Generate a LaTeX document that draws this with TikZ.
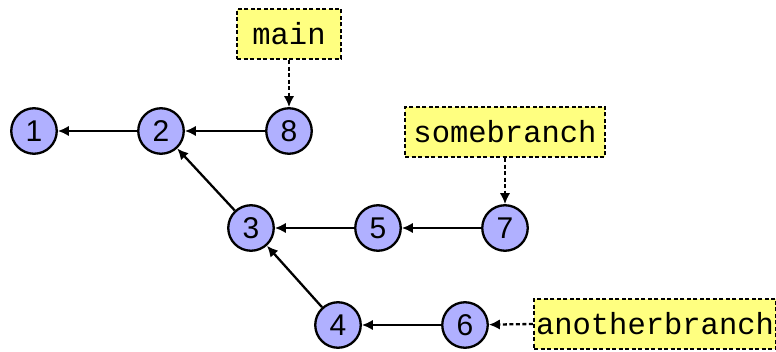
\documentclass[tikz,border=0pt]{standalone}
\usepackage{fontspec}
\setmainfont{Liberation Sans}
\newfontfamily\labelfont{Liberation Mono}
\usetikzlibrary{arrows.meta}
\definecolor{commitfill}{HTML}{B0B0FF}
\definecolor{reffill}{HTML}{FFFF80}
\tikzset{
  commit/.style={circle, draw=black, line width=2.3pt, fill=commitfill, minimum size=45.5pt, inner sep=0pt, font=\fontsize{30}{36}\selectfont},
  refbox/.style={rectangle, draw=black, line width=2.3pt, dash pattern=on 4pt off 2.5pt, fill=reffill, minimum height=50pt, inner xsep=2pt, inner ysep=0pt, font=\labelfont\fontsize{30.5}{36}\selectfont},
  parent/.style={-{Latex[length=11pt,width=10.5pt]}, line width=2.3pt},
  refptr/.style={-{Latex[length=11pt,width=10.5pt]}, line width=2.3pt, dash pattern=on 4pt off 2.5pt},
}
\begin{document}
\begin{tikzpicture}[x=1pt,y=-1pt]
\useasboundingbox (0,0) rectangle (776,352);
\node[commit] (c1) at (34,131) {1};
\node[commit] (c2) at (161,131) {2};
\node[commit] (c8) at (289,131) {8};
\node[commit] (c3) at (251,228) {3};
\node[commit] (c5) at (378,228) {5};
\node[commit] (c7) at (505,228) {7};
\node[commit] (c4) at (338,325) {4};
\node[commit] (c6) at (465,325) {6};
\node[refbox, minimum width=104pt] (main) at (289,34) {main};
\node[refbox, minimum width=200pt] (some) at (505,132) {somebranch};
\node[refbox, minimum width=238pt] (another) at (655,324) {anotherbranch};
\draw[parent] (c2) -- (c1);
\draw[parent] (c8) -- (c2);
\draw[parent] (c3) -- (c2);
\draw[parent] (c5) -- (c3);
\draw[parent] (c7) -- (c5);
\draw[parent] (c4) -- (c3);
\draw[parent] (c6) -- (c4);
\draw[refptr] (main) -- (c8);
\draw[refptr] (some) -- (c7);
\draw[refptr] (another.west) -- (c6);
\end{tikzpicture}
\end{document}
